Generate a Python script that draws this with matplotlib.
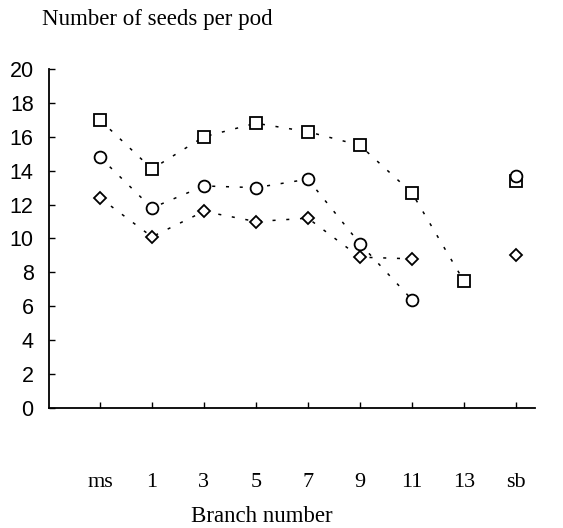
import numpy as np
import matplotlib
matplotlib.use("Agg")
import matplotlib.pyplot as plt

# Seeds per pod by branch position (ms = main stem, sb = secondary branches)
branches = ["ms", "1", "3", "5", "7", "9", "11", "13", "sb"]
squares = [17.0, 14.1, 16.0, 16.8, 16.3, 15.5, 12.7, 7.5, 13.4]
circles = [14.8, 11.8, 13.1, 13.0, 13.5, 9.7, 6.4, np.nan, 13.7]
diamonds = [12.4, 10.1, 11.6, 11.0, 11.2, 8.9, 8.8, np.nan, 9.0]
yticks = [0, 2, 4, 6, 8, 10, 12, 14, 16, 18, 20]

serif = "Liberation Serif"
sans = "Liberation Sans"

W, H = 563, 528
fig = plt.figure(figsize=(W / 100, H / 100), dpi=100)
ax = fig.add_axes([49 / W, 1 - 408 / H, (535 - 49) / W, (408 - 69) / H])

x = np.arange(len(branches))
n_line = len(branches) - 1  # sb is not connected to the branch series

line_kw = dict(color="black", lw=1.1, linestyle=(0, (2, 7)))
for vals in (squares, circles, diamonds):
    ax.plot(x[:n_line], vals[:n_line], **line_kw)

mk = dict(linestyle="none", mfc="white", mec="black", mew=1.3)
ax.plot(x, squares, marker="s", ms=9, **mk)
ax.plot(x, circles, marker="o", ms=8.5, **mk)
ax.plot(x, diamonds, marker="D", ms=6.5, **mk)

ax.set_xlim(-0.98, 8.37)
ax.set_ylim(0, 20)
ax.set_yticks(yticks)
ax.set_yticklabels([str(v) for v in yticks], fontsize=15.5, family=sans)
ax.set_xticks(x)
ax.set_xticklabels(branches, fontsize=16, family=serif)

for s in ("top", "right"):
    ax.spines[s].set_visible(False)
for s in ("left", "bottom"):
    ax.spines[s].set_linewidth(1.3)

ax.tick_params(axis="y", direction="in", length=4, width=1, pad=11)
ax.tick_params(axis="x", direction="in", length=4, width=1, pad=47)

fig.text(42 / W, 1 - 19 / H, "Number of seeds per pod", family=serif,
         fontsize=16.5, ha="left", va="center")
fig.text(262 / W, 1 - 517 / H, "Branch number", family=serif,
         fontsize=16.5, ha="center", va="center")

fig.savefig("out.png", dpi=100)
